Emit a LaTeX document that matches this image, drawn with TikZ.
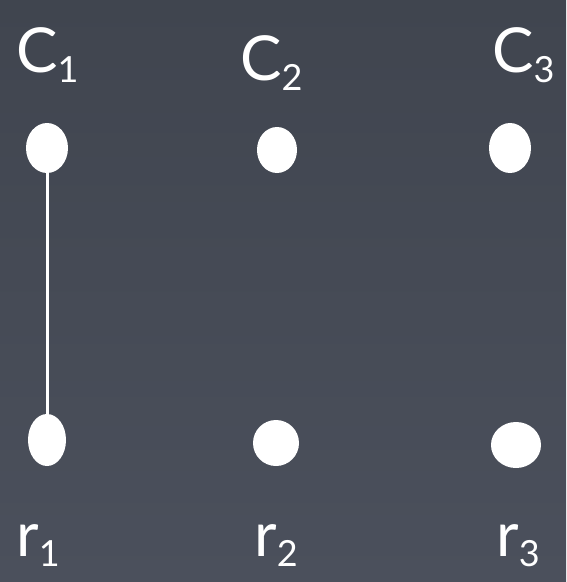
\documentclass[tikz,border=0pt]{standalone}
\usepackage{fontspec}
\setmainfont{Lato}
\usetikzlibrary{shapes.geometric}
\definecolor{board}{HTML}{4B505C}
\definecolor{boarddark}{HTML}{40454F}
\newcommand{\lbl}[2]{{\fontsize{62}{62}\selectfont #1}\raisebox{-10pt}{\fontsize{36}{36}\selectfont #2}}
\begin{document}
\begin{tikzpicture}[x=1pt,y=-1pt,
  dot/.style={ellipse,fill=white,draw=none,inner sep=0pt},
  lab/.style={text=white,inner sep=0pt,anchor=base west},
  edge/.style={draw=white,line width=3pt}]
\useasboundingbox (0,0) rectangle (566,582);
\shade[top color=boarddark,bottom color=board] (0,0) rectangle (566,582);
% nodes
\node[dot,minimum width=42pt,minimum height=50pt] (c1) at (47,148) {};
\node[dot,minimum width=40pt,minimum height=46pt] (c2) at (277,150) {};
\node[dot,minimum width=42pt,minimum height=50pt] (c3) at (510,148) {};
\node[dot,minimum width=38pt,minimum height=52pt] (r1) at (47,440) {};
\node[dot,minimum width=46pt,minimum height=46pt] (r2) at (276,443) {};
\node[dot,minimum width=50pt,minimum height=46pt] (r3) at (516,445) {};
% edge
\draw[edge] (c1) -- (r1);
% labels
\node[lab] (lc1) at (16,72) {\lbl{C}{1}};
\node[lab] (lc2) at (240,80) {\lbl{C}{2}};
\node[lab] (lc3) at (492,72) {\lbl{C}{3}};
\node[lab] (lr1) at (16,556) {\lbl{r}{1}};
\node[lab] (lr2) at (254,556) {\lbl{r}{2}};
\node[lab] (lr3) at (496,556) {\lbl{r}{3}};
\end{tikzpicture}
\end{document}
